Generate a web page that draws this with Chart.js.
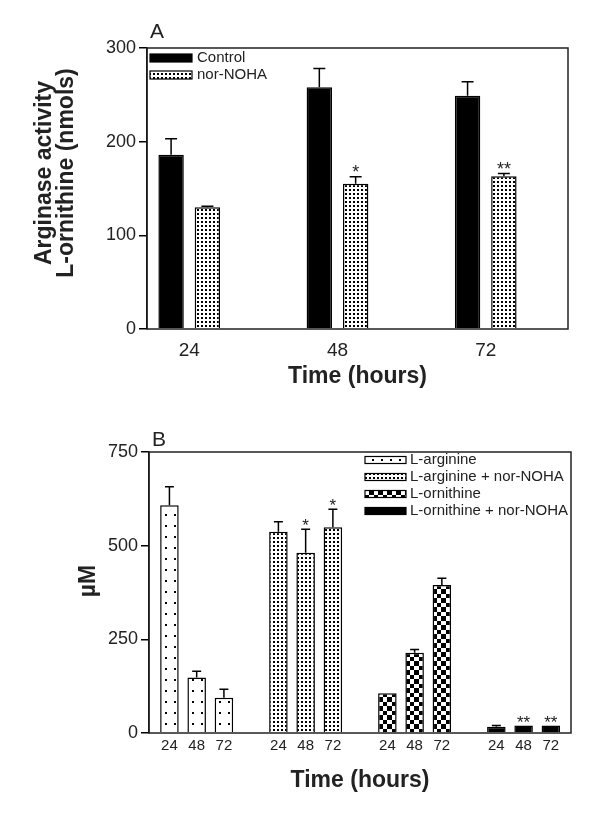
<!DOCTYPE html>
<html>
<head>
<meta charset="utf-8">
<script src="https://cdn.jsdelivr.net/npm/chart.js@4"></script>
<style>
  body { margin: 0; background: #fff; }
  .panel { position: absolute; left: 0; width: 600px; }
  #boxA { top: 0; height: 400px; }
  #boxB { top: 400px; height: 414px; }
</style>
</head>
<body>
<div class="panel" id="boxA"><canvas id="chartA"></canvas></div>
<div class="panel" id="boxB"><canvas id="chartB"></canvas></div>
<script>
// ---- panel A: arginase activity ----
const hoursA = [24, 48, 72];
const controlA = [186, 258, 249];
const controlErrA = [17, 20, 15];
const norNohaA = [130, 155, 163];
const norNohaErrA = [1, 7.5, 3];
const norNohaStarsA = ['', '*', '**'];

// ---- panel B: amino acid levels (bar positions on x, 3 per group) ----
const tickPosB = [0, 1, 2, 4, 5, 6, 8, 9, 10, 12, 13, 14];
const tickLabelsB = ['24', '48', '72', '24', '48', '72', '24', '48', '72', '24', '48', '72'];
const posArgB = [0, 1, 2];
const argB = [608, 148, 94];
const argErrB = [49, 17, 23];
const posArgNorB = [4, 5, 6];
const argNorB = [537, 481, 549];
const argNorErrB = [27, 63, 48];
const argNorStarsB = ['', '*', '*'];
const posOrnB = [8, 9, 10];
const ornB = [106, 214, 395];
const ornErrB = [0, 9, 18];
const posOrnNorB = [12, 13, 14];
const ornNorB = [17, 20, 20];
const ornNorErrB = [3, 0, 0];
const ornNorStarsB = ['', '**', '**'];

const FONT = 'Liberation Sans, Arial, sans-serif';
Chart.defaults.font.family = FONT;
Chart.defaults.color = '#222';

// fill patterns
function makePattern(w, h, draw) {
  const c = document.createElement('canvas');
  c.width = w; c.height = h;
  const g = c.getContext('2d');
  g.fillStyle = '#fff';
  g.fillRect(0, 0, w, h);
  g.fillStyle = '#000';
  draw(g);
  return document.createElement('canvas').getContext('2d').createPattern(c, 'repeat');
}
const denseDots = makePattern(4, 4, g => g.fillRect(1, 1, 2, 2));
const sparseDots = makePattern(9, 11, g => g.fillRect(3, 4, 2, 2));
const checker = makePattern(9, 9, g => { g.fillRect(0, 0, 5, 5); g.fillRect(5, 5, 4, 4); });

function pts(xs, ys) {
  return xs.map((x, i) => ({ x: x, y: ys[i] }));
}

// error bars, stars, frame, panel letter, y title and inside legend
const extras = {
  id: 'extras',
  afterDatasetsDraw(chart, args, opts) {
    const ctx = chart.ctx;
    const yScale = chart.scales.y;
    ctx.save();
    ctx.strokeStyle = '#000';
    ctx.lineWidth = 1.5;
    chart.data.datasets.forEach((ds, di) => {
      chart.getDatasetMeta(di).data.forEach((bar, i) => {
        const err = ds.errors[i];
        let top = bar.y;
        if (err > 0) {
          top = yScale.getPixelForValue(ds.data[i].y + err);
          ctx.beginPath();
          ctx.moveTo(bar.x, bar.y);
          ctx.lineTo(bar.x, top);
          ctx.moveTo(bar.x - opts.cap / 2, top);
          ctx.lineTo(bar.x + opts.cap / 2, top);
          ctx.stroke();
        }
        if (ds.stars && ds.stars[i]) {
          ctx.fillStyle = '#222';
          ctx.font = opts.starFont;
          ctx.textAlign = 'center';
          ctx.textBaseline = 'alphabetic';
          ctx.fillText(ds.stars[i], bar.x, top + opts.starShift);
        }
      });
    });
    ctx.restore();
  },
  afterDraw(chart, args, opts) {
    const ctx = chart.ctx;
    const ca = chart.chartArea;
    ctx.save();
    ctx.strokeStyle = '#222';
    ctx.lineWidth = 1.5;
    ctx.strokeRect(ca.left, ca.top, ca.right - ca.left, ca.bottom - ca.top);

    ctx.fillStyle = '#222';
    ctx.font = opts.letterFont;
    ctx.textAlign = 'left';
    ctx.textBaseline = 'alphabetic';
    ctx.fillText(opts.letter, opts.letterX, opts.letterY);

    // rotated y title
    const yt = opts.yTitle;
    ctx.save();
    ctx.translate(yt.x, yt.y);
    ctx.rotate(-Math.PI / 2);
    ctx.font = yt.font;
    ctx.textAlign = 'center';
    ctx.textBaseline = 'middle';
    yt.lines.forEach((t, i) => ctx.fillText(t, 0, i * yt.gap));
    ctx.restore();

    const lg = opts.legend;
    chart.data.datasets.forEach((ds, i) => {
      const cy = lg.y + i * lg.rowGap;
      ctx.fillStyle = ds.backgroundColor;
      ctx.fillRect(lg.x, cy - lg.h / 2, lg.w, lg.h);
      ctx.strokeStyle = '#000';
      ctx.lineWidth = 1.2;
      ctx.strokeRect(lg.x, cy - lg.h / 2, lg.w, lg.h);
      ctx.fillStyle = '#222';
      ctx.font = lg.font;
      ctx.textAlign = 'left';
      ctx.textBaseline = 'middle';
      ctx.fillText(ds.label, lg.x + lg.w + lg.gap, cy);
    });
    ctx.restore();
  }
};

function yAxis(max, step, width) {
  return {
    min: 0, max: max,
    ticks: { stepSize: step, padding: 3, color: '#222', font: { size: 18 } },
    grid: { drawOnChartArea: false, drawTicks: true, tickLength: 8, color: '#000', lineWidth: 1.5 },
    border: { color: '#000', width: 1.5 },
    afterFit: s => { s.width = width; },
    title: { display: false }
  };
}

function xTitle(padBottom) {
  return {
    display: true, text: 'Time (hours)', color: '#222',
    font: { size: 23, weight: 'bold' },
    padding: { top: 0, bottom: padBottom }
  };
}

// Panel A
new Chart(document.getElementById('chartA'), {
  type: 'bar',
  data: {
    datasets: [
      { label: 'Control', data: pts(hoursA, controlA), errors: controlErrA,
        backgroundColor: '#000', borderColor: '#000', borderWidth: 1.5 },
      { label: 'nor-NOHA', data: pts(hoursA, norNohaA), errors: norNohaErrA, stars: norNohaStarsA,
        backgroundColor: denseDots, borderColor: '#000', borderWidth: 1.5 }
    ]
  },
  options: {
    responsive: true, maintainAspectRatio: false, animation: false,
    datasets: { bar: { categoryPercentage: 0.49, barPercentage: 0.7 } },
    layout: { padding: { left: 0, top: 48, right: 32, bottom: 0 } },
    plugins: {
      legend: { display: false },
      tooltip: { enabled: false },
      extras: {
        cap: 12, starFont: '18px ' + FONT, starShift: 1.5,
        letter: 'A', letterX: 150, letterY: 38, letterFont: '21px ' + FONT,
        yTitle: { lines: ['Arginase activity', 'L-ornithine (nmols)'], x: 45, y: 173, gap: 22,
          font: 'bold 23px ' + FONT },
        legend: { x: 150, y: 58, rowGap: 17, w: 42, h: 8, gap: 5, font: '15px ' + FONT }
      }
    },
    scales: {
      x: {
        type: 'linear', min: 17.16, max: 85.32, offset: false,
        grid: { display: false, drawTicks: false, offset: false },
        border: { display: false },
        afterBuildTicks: s => { s.ticks = hoursA.map(v => ({ value: v })); },
        ticks: { autoSkip: false, maxRotation: 0, padding: 10, color: '#222', font: { size: 19 },
          callback: v => String(v) },
        afterFit: s => { s.height = 71; },
        title: xTitle(10)
      },
      y: yAxis(300, 100, 147)
    }
  },
  plugins: [extras]
});

// Panel B
new Chart(document.getElementById('chartB'), {
  type: 'bar',
  data: {
    datasets: [
      { label: 'L-arginine', data: pts(posArgB, argB), errors: argErrB,
        backgroundColor: sparseDots, borderColor: '#000', borderWidth: 1.5 },
      { label: 'L-arginine + nor-NOHA', data: pts(posArgNorB, argNorB), errors: argNorErrB, stars: argNorStarsB,
        backgroundColor: denseDots, borderColor: '#000', borderWidth: 1.5 },
      { label: 'L-ornithine', data: pts(posOrnB, ornB), errors: ornErrB,
        backgroundColor: checker, borderColor: '#000', borderWidth: 1.5 },
      { label: 'L-ornithine + nor-NOHA', data: pts(posOrnNorB, ornNorB), errors: ornNorErrB, stars: ornNorStarsB,
        backgroundColor: '#000', borderColor: '#000', borderWidth: 1.5 }
    ]
  },
  options: {
    responsive: true, maintainAspectRatio: false, animation: false,
    datasets: { bar: { grouped: false, categoryPercentage: 1, barPercentage: 0.68 } },
    layout: { padding: { left: 0, top: 52, right: 29, bottom: 0 } },
    plugins: {
      legend: { display: false },
      tooltip: { enabled: false },
      extras: {
        cap: 9, starFont: '17px ' + FONT, starShift: 2,
        letter: 'B', letterX: 152, letterY: 46, letterFont: '21px ' + FONT,
        yTitle: { lines: ['µM'], x: 89, y: 181, gap: 22, font: 'bold 23px ' + FONT },
        legend: { x: 365, y: 60, rowGap: 17, w: 41, h: 7, gap: 4, font: '15px ' + FONT }
      }
    },
    scales: {
      x: {
        type: 'linear', min: -0.75, max: 14.74, offset: false,
        grid: { display: false, drawTicks: false, offset: false },
        border: { display: false },
        afterBuildTicks: s => { s.ticks = tickPosB.map(v => ({ value: v })); },
        ticks: { autoSkip: false, maxRotation: 0, padding: 4, color: '#222', font: { size: 15 },
          callback: v => tickLabelsB[tickPosB.indexOf(v)] },
        afterFit: s => { s.height = 81; },
        title: xTitle(20)
      },
      y: yAxis(750, 250, 149)
    }
  },
  plugins: [extras]
});
</script>
</body>
</html>
